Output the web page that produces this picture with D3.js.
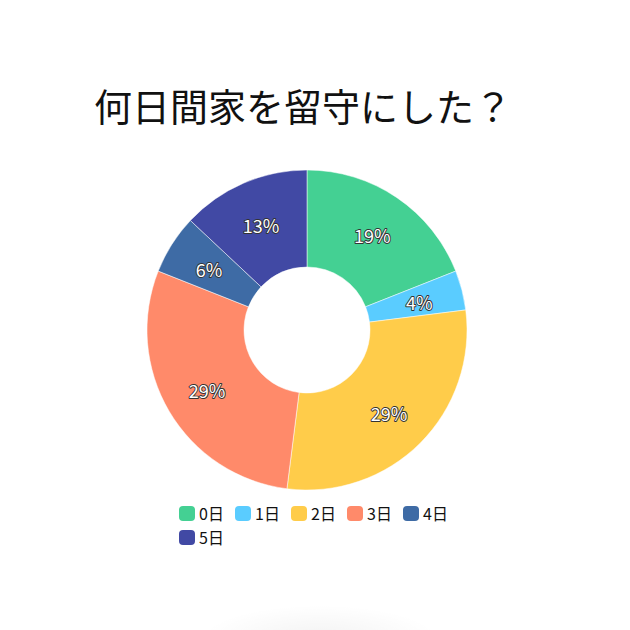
<!DOCTYPE html>
<html>
<head>
<meta charset="utf-8">
<script src="https://cdn.jsdelivr.net/npm/d3@7"></script>
<style>
  body { margin: 0; background: #fff; }
  svg { display: block; }
</style>
</head>
<body>
<script>
var categories = ["0日", "1日", "2日", "3日", "4日", "5日"];
var values = [19, 4, 29, 29, 6, 13];
var colors = ["#44d093", "#5accff", "#ffcc4a", "#ff8a6a", "#3e6ba5", "#4149a4"];
var title = "何日間家を留守にした？";

var w = 630;
var h = 630;
var cx = 307;
var cy = 330;
var outerR = 160;
var innerR = 63;

var font = "'Noto Sans CJK JP', 'Noto Sans', sans-serif";

var svg = d3.select("body")
  .append("svg")
  .attr("width", w)
  .attr("height", h);

// faint shadow at the bottom edge
var defs = svg.append("defs");
var grad = defs.append("radialGradient").attr("id", "shade");
grad.append("stop").attr("offset", "0%").attr("stop-color", "#000").attr("stop-opacity", 0.05);
grad.append("stop").attr("offset", "100%").attr("stop-color", "#000").attr("stop-opacity", 0);
svg.append("ellipse")
  .attr("cx", 320).attr("cy", 640)
  .attr("rx", 120).attr("ry", 35)
  .attr("fill", "url(#shade)");

svg.append("text")
  .attr("x", 94)
  .attr("y", 121)
  .attr("font-family", font)
  .attr("font-size", 38)
  .attr("fill", "#111")
  .text(title);

var color = d3.scaleOrdinal().domain(categories).range(colors);

var pie = d3.pie().sort(null).value(function(d) { return d.value; });
var data = categories.map(function(c, i) { return { name: c, value: values[i] }; });
var arcs = pie(data);

var arc = d3.arc().innerRadius(innerR).outerRadius(outerR);
var labelArc = d3.arc().innerRadius(116).outerRadius(116);

var g = svg.append("g")
  .attr("transform", "translate(" + cx + "," + cy + ")");

g.selectAll(".slice")
  .data(arcs)
  .enter()
  .append("path")
  .attr("class", "slice")
  .attr("d", arc)
  .attr("fill", function(d) { return color(d.data.name); })
  .attr("stroke", "#fff")
  .attr("stroke-width", 0.5);

var total = d3.sum(values);

g.selectAll(".label")
  .data(arcs)
  .enter()
  .append("text")
  .attr("class", "label")
  .attr("transform", function(d) { return "translate(" + labelArc.centroid(d) + ")"; })
  .attr("text-anchor", "middle")
  .attr("dy", "0.5em")
  .attr("font-family", font)
  .attr("font-size", 18)
  .attr("fill", "#fff")
  .attr("stroke", "#333")
  .attr("stroke-width", 1.8)
  .attr("paint-order", "stroke")
  .attr("stroke-linejoin", "round")
  .text(function(d) { return Math.round(d.data.value / total * 100) + "%"; });

// legend
var perRow = 5;
var legend = svg.append("g").attr("transform", "translate(179,506)");
var item = legend.selectAll(".item")
  .data(categories)
  .enter()
  .append("g")
  .attr("class", "item")
  .attr("transform", function(d, i) {
    return "translate(" + (i % perRow) * 56 + "," + Math.floor(i / perRow) * 24 + ")";
  });

item.append("rect")
  .attr("width", 16)
  .attr("height", 15)
  .attr("rx", 4)
  .attr("fill", function(d) { return color(d); });

item.append("text")
  .attr("x", 20)
  .attr("y", 14)
  .attr("font-family", font)
  .attr("font-size", 16)
  .attr("fill", "#111")
  .text(function(d) { return d; });
</script>
</body>
</html>
